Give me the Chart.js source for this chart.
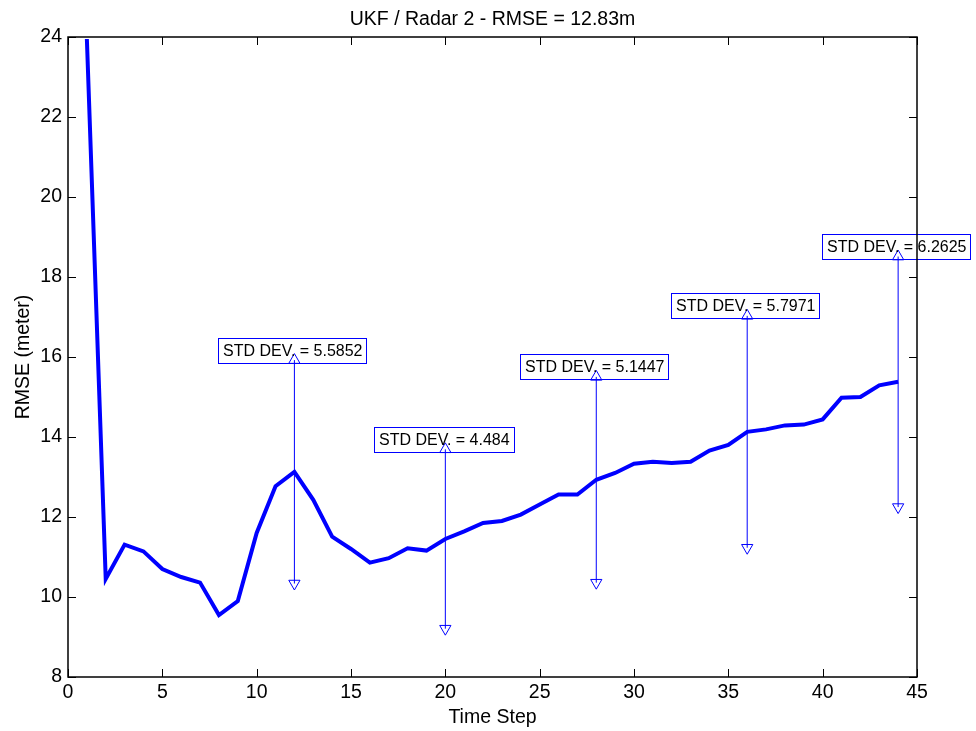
<!DOCTYPE html>
<html>
<head>
<meta charset="utf-8">
<script src="https://cdn.jsdelivr.net/npm/chart.js@4/dist/chart.umd.min.js"></script>
<style>
  html, body { margin: 0; padding: 0; background: #fff; }
  #wrap { width: 976px; height: 731px; }
</style>
</head>
<body>
<div id="wrap"><canvas id="rmseChart" width="976" height="731"></canvas></div>
<script>
// values
const timeSteps = [1, 2, 3, 4, 5, 6, 7, 8, 9, 10, 11, 12, 13, 14, 15, 16, 17, 18, 19, 20, 21, 22,
    23, 24, 25, 26, 27, 28, 29, 30, 31, 32, 33, 34, 35, 36, 37, 38, 39, 40, 41, 42, 43, 44];
const rmseValues = [23.95, 10.45, 11.31, 11.14, 10.7, 10.5, 10.36, 9.55, 9.9, 11.6, 12.77, 13.13,
    12.43, 11.51, 11.2, 10.86, 10.97, 11.22, 11.16, 11.45, 11.64, 11.85, 11.9, 12.06, 12.31, 12.56,
    12.56, 12.93, 13.1, 13.33, 13.38, 13.35, 13.38, 13.66, 13.8, 14.13, 14.19, 14.29, 14.31, 14.44,
    14.98, 15.0, 15.29, 15.38];
const stdSteps = [12, 20, 28, 36, 44];
const stdDevs = [5.5852, 4.484, 5.1447, 5.7971, 6.2625];
const xTicks = [0, 5, 10, 15, 20, 25, 30, 35, 40, 45];
const yTicks = [8, 10, 12, 14, 16, 18, 20, 22, 24];

const FONT = '"Liberation Sans", Arial, sans-serif';
const BLUE = '#0000ff';

// main curve
const datasets = [{
    label: 'RMSE',
    data: timeSteps.map((t, i) => ({x: t, y: rmseValues[i]})),
    borderColor: BLUE,
    borderWidth: 4,
    pointRadius: 0,
    tension: 0,
    order: 1
}];

// double arrows, one per STD DEV annotation
stdSteps.forEach((t, i) => {
    const mid = rmseValues[t - 1];
    datasets.push({
        label: 'std' + t,
        data: [{x: t, y: mid - stdDevs[i] / 2}, {x: t, y: mid + stdDevs[i] / 2}],
        borderColor: BLUE,
        borderWidth: 1,
        pointStyle: 'triangle',
        pointRotation: [180, 0],
        pointRadius: 6.5,
        pointBorderWidth: 1,
        pointBorderColor: BLUE,
        pointBackgroundColor: 'rgba(255,255,255,0)',
        clip: false,
        order: 0
    });
});

// MATLAB look: boxed axes, inward ticks, title and text boxes
const matlabAxes = {
    id: 'matlabAxes',
    afterDatasetsDraw(chart) {
        const ctx = chart.ctx;
        const xs = chart.scales.x, ys = chart.scales.y;
        ctx.save();
        ctx.font = '16px ' + FONT;
        ctx.textBaseline = 'middle';
        stdSteps.forEach((t, i) => {
            const txt = 'STD DEV. = ' + stdDevs[i];
            const w = ctx.measureText(txt).width + 9;
            const h = 25;
            const cx = xs.getPixelForValue(t) - 2;
            const bottom = ys.getPixelForValue(rmseValues[t - 1] + stdDevs[i] / 2) + 2.5;
            ctx.strokeStyle = BLUE;
            ctx.lineWidth = 1;
            ctx.strokeRect(Math.round(cx - w / 2) + 0.5, Math.round(bottom - h) + 0.5, Math.round(w), h);
            ctx.fillStyle = '#000';
            ctx.textAlign = 'left';
            ctx.fillText(txt, Math.round(cx - w / 2) + 5, bottom - h / 2 + 1);
        });
        ctx.restore();
    },
    afterDraw(chart) {
        const ctx = chart.ctx;
        const a = chart.chartArea;
        const xs = chart.scales.x, ys = chart.scales.y;
        const tl = 8;
        ctx.save();
        ctx.strokeStyle = '#000';
        ctx.lineWidth = 1;
        ctx.beginPath();
        xTicks.forEach(v => {
            const px = Math.round(xs.getPixelForValue(v)) + 0.5;
            ctx.moveTo(px, a.bottom); ctx.lineTo(px, a.bottom - tl);
            ctx.moveTo(px, a.top); ctx.lineTo(px, a.top + tl);
        });
        yTicks.forEach(v => {
            const py = Math.round(ys.getPixelForValue(v)) + 0.5;
            ctx.moveTo(a.left, py); ctx.lineTo(a.left + tl, py);
            ctx.moveTo(a.right, py); ctx.lineTo(a.right - tl, py);
        });
        ctx.stroke();
        ctx.lineWidth = 1.5;
        ctx.strokeRect(a.left, a.top, a.right - a.left, a.bottom - a.top);
        ctx.fillStyle = '#000';
        ctx.font = '19.5px ' + FONT;
        ctx.textAlign = 'center';
        ctx.textBaseline = 'alphabetic';
        ctx.fillText('UKF / Radar 2 - RMSE = 12.83m', (a.left + a.right) / 2, 25);
        ctx.restore();
    }
};

const ctx = document.getElementById('rmseChart').getContext('2d');
const myChart = new Chart(ctx, {
    type: 'line',
    data: {datasets: datasets},
    options: {
        responsive: false,
        animation: false,
        layout: {padding: {top: 37, right: 59, left: 0, bottom: 0}},
        plugins: {
            legend: {display: false},
            title: {display: false},
            tooltip: {enabled: false}
        },
        scales: {
            x: {
                type: 'linear',
                min: 0,
                max: 45,
                grid: {display: false, drawTicks: false},
                border: {display: false},
                afterBuildTicks: s => { s.ticks = xTicks.map(v => ({value: v})); },
                afterFit: s => { s.height = 54; },
                ticks: {color: '#000', padding: 4, maxRotation: 0, font: {size: 19.5, family: FONT}},
                title: {display: true, text: 'Time Step', color: '#000', padding: {top: 0, bottom: 2},
                    font: {size: 19.5, family: FONT}}
            },
            y: {
                min: 8,
                max: 24,
                grid: {display: false, drawTicks: false},
                border: {display: false},
                afterBuildTicks: s => { s.ticks = yTicks.map(v => ({value: v})); },
                afterFit: s => { s.width = 68; },
                ticks: {color: '#000', padding: 6, font: {size: 19.5, family: FONT}},
                title: {display: true, text: 'RMSE (meter)', color: '#000', padding: {top: 12, bottom: 0},
                    font: {size: 19.5, family: FONT}}
            }
        }
    },
    plugins: [matlabAxes]
});
</script>
</body>
</html>
